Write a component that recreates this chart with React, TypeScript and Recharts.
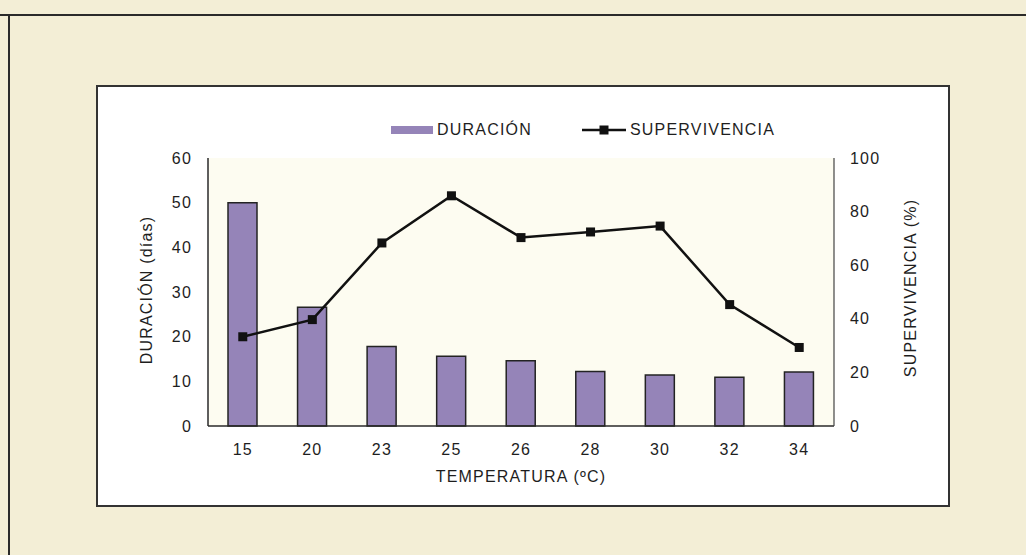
import React from 'react';
import { ComposedChart, Bar, Line, XAxis, YAxis, Legend } from 'recharts';

const temperaturas = ['15', '20', '23', '25', '26', '28', '30', '32', '34'];
const duracion = [50, 26.6, 17.8, 15.6, 14.6, 12.2, 11.4, 10.9, 12.1];
const supervivencia = [33.3, 39.7, 68.3, 85.9, 70.3, 72.4, 74.6, 45.3, 29.3];
const leftTicks = [0, 10, 20, 30, 40, 50, 60];
const rightTicks = [0, 20, 40, 60, 80, 100];

const data = temperaturas.map((t, i) => ({ t, duracion: duracion[i], supervivencia: supervivencia[i] }));

const FONT = '"Liberation Sans", Arial, sans-serif';
const TXT = '#1e1e1e';
const LS = 1.2;
const tickStyle = { fontSize: 16, fill: TXT, fontFamily: FONT, letterSpacing: LS };

const SquareDot = (props: any) => {
  const { cx, cy, index } = props;
  if (cx == null || cy == null) return null;
  return <rect key={'d' + index} x={cx - 4.5} y={cy - 4.5} width={9} height={9} fill="#111" />;
};

const LegendContent = () => (
  <div style={{ display: 'flex', alignItems: 'center', fontFamily: FONT, fontSize: 16, color: TXT, letterSpacing: LS, whiteSpace: 'nowrap' }}>
    <svg width={42} height={10} style={{ display: 'block' }}>
      <rect x={0} y={1} width={42} height={8} fill="#9584b8" />
    </svg>
    <span style={{ marginLeft: 4 }}>DURACIÓN</span>
    <svg width={44} height={12} style={{ display: 'block', marginLeft: 50 }}>
      <line x1={0} y1={6} x2={44} y2={6} stroke="#111" strokeWidth={2.5} />
      <rect x={17.5} y={1.5} width={9} height={9} fill="#111" />
    </svg>
    <span style={{ marginLeft: 4 }}>SUPERVIVENCIA</span>
  </div>
);

const LeftLabel = (props: any) => {
  const vb = props.viewBox || {};
  const x = vb.x + vb.width - 62;
  const y = vb.y + vb.height / 2 - 2;
  return (
    <text x={x} y={y} transform={`rotate(-90, ${x}, ${y})`} textAnchor="middle" dominantBaseline="central"
      fontSize={16} fill={TXT} fontFamily={FONT} letterSpacing={LS}>DURACIÓN  (días)</text>
  );
};

const RightLabel = (props: any) => {
  const vb = props.viewBox || {};
  const x = vb.x + 76;
  const y = vb.y + vb.height / 2 - 4;
  return (
    <text x={x} y={y} transform={`rotate(-90, ${x}, ${y})`} textAnchor="middle" dominantBaseline="central"
      fontSize={16} fill={TXT} fontFamily={FONT} letterSpacing={LS}>SUPERVIVENCIA  (%)</text>
  );
};

export default function App() {
  return (
    <div style={{ position: 'absolute', left: 0, top: 0, width: 1026, height: 555, background: '#f3eed6', overflow: 'hidden' }}>
      <div style={{ position: 'absolute', left: 0, top: 14, width: 1026, height: 0, borderTop: '2px solid #2a2a2a' }} />
      <div style={{ position: 'absolute', left: 8, top: 14, width: 0, height: 541, borderLeft: '2px solid #2a2a2a' }} />
      <div style={{ position: 'absolute', left: 96, top: 85, width: 850, height: 418, background: '#ffffff', border: '2px solid #333' }} />
      <div style={{ position: 'absolute', left: 208, top: 158, width: 626, height: 268, background: '#fdfcf1' }} />
      <div style={{ position: 'absolute', left: 0, top: 0 }}>
        <ComposedChart width={1026} height={555} data={data} margin={{ top: 158, right: 0, bottom: 0, left: 0 }} barCategoryGap="29%">
          <XAxis dataKey="t" height={129} tickLine={false} tickSize={0} tickMargin={18}
            axisLine={{ stroke: '#2a2a2a', strokeWidth: 1.5 }} tick={tickStyle} interval={0}
            label={{ value: 'TEMPERATURA (ºC)', position: 'insideTop', offset: 45, style: { fontSize: 16, fill: TXT, fontFamily: FONT, letterSpacing: LS } }} />
          <XAxis xAxisId="top" dataKey="t" orientation="top" height={0} tick={false} tickLine={false}
            axisLine={{ stroke: '#444', strokeWidth: 1.2 }} />
          <YAxis yAxisId="left" width={208} domain={[0, 60]} ticks={leftTicks} tickLine={false} tickSize={0} tickMargin={16}
            axisLine={{ stroke: '#2a2a2a', strokeWidth: 1.5 }} tick={tickStyle} label={<LeftLabel />} />
          <YAxis yAxisId="right" orientation="right" width={192} domain={[0, 100]} ticks={rightTicks} tickLine={false} tickSize={0} tickMargin={16}
            axisLine={{ stroke: '#444', strokeWidth: 1.2 }} tick={tickStyle} label={<RightLabel />} />
          <Legend layout="horizontal" verticalAlign="middle" align="center" content={<LegendContent />}
            wrapperStyle={{ top: 121, left: 391, width: 'auto', height: 'auto' }} />
          <Bar yAxisId="left" dataKey="duracion" name="DURACIÓN" fill="#9584b8" stroke="#232323" strokeWidth={1.5}
            barSize={29} isAnimationActive={false} />
          <Line yAxisId="right" dataKey="supervivencia" name="SUPERVIVENCIA" stroke="#111" strokeWidth={2.5}
            dot={SquareDot} activeDot={false} isAnimationActive={false} />
        </ComposedChart>
      </div>
    </div>
  );
}
